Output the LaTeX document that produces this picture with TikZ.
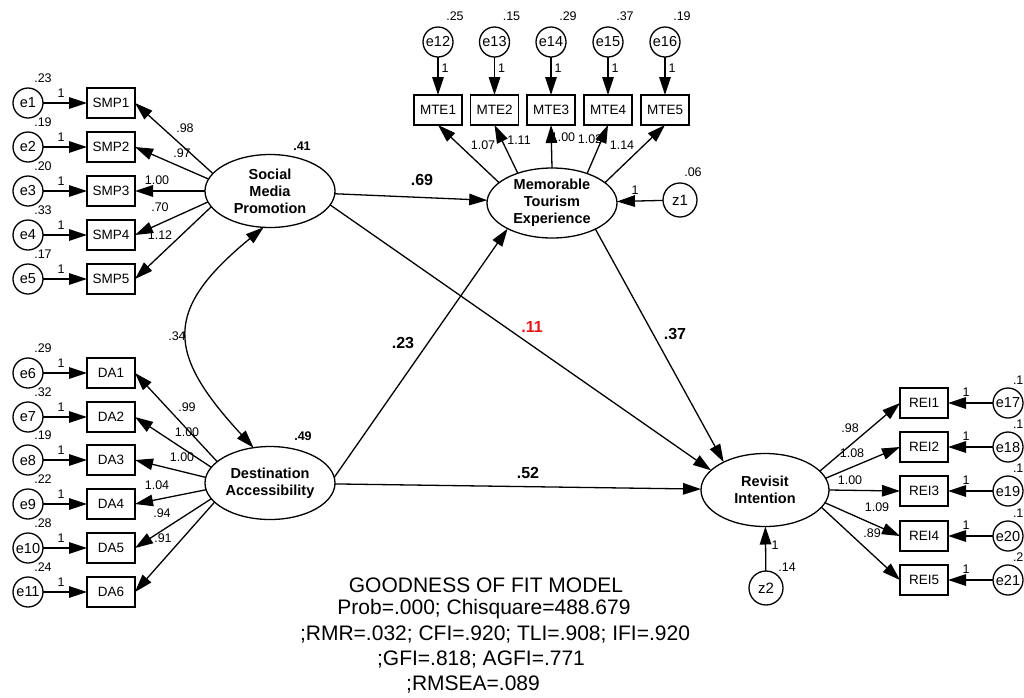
\documentclass[tikz,border=0pt]{standalone}
\usepackage{fontspec}
\setmainfont{Liberation Sans}
\usetikzlibrary{arrows.meta,shapes.geometric}
\definecolor{sigred}{RGB}{230,20,20}
\begin{document}
\begin{tikzpicture}[x=1pt,y=-1pt,
 every node/.style={inner sep=0pt,outer sep=0pt},
 lw/.style={line width=1.3pt},
 errc/.style={circle,draw,lw,minimum size=30pt,font=\fontsize{14.5}{14.5}\selectfont},
 zc/.style={circle,draw,lw,minimum size=34pt,font=\fontsize{15}{15}\selectfont},
 obs/.style={rectangle,draw,lw,minimum width=48pt,minimum height=30pt,font=\fontsize{13.5}{13.5}\selectfont},
 lat/.style={ellipse,draw,lw,minimum width=130pt,minimum height=73pt,align=center,font=\fontsize{14.5}{17}\selectfont\bfseries},
 arr/.style={lw,-{Triangle[length=18pt,width=11.5pt]}},
 darr/.style={lw,{Triangle[length=18pt,width=11.5pt]}-{Triangle[length=18pt,width=11.5pt]}},
 num/.style={font=\fontsize{12.5}{12.5}\selectfont},
 bnum/.style={font=\fontsize{12.5}{12.5}\selectfont\bfseries},
 coef/.style={font=\fontsize{16}{16}\selectfont\bfseries},
 fit/.style={font=\fontsize{21}{21}\selectfont},
]
\useasboundingbox (0,0) rectangle (1024,697);

% ---------- latent variables
\node[lat] (smp) at (270,191) {Social\\Media\\Promotion};
\node[lat] (da) at (270,483) {Destination\\Accessibility};
\node[lat,minimum height=70pt] (mte) at (552,203) {Memorable\\Tourism\\Experience};
\node[lat,minimum width=128pt] (rei) at (765,490) {Revisit\\Intention};
\node[bnum] at (302,146) {.41};
\node[bnum] at (303,436) {.49};

% ---------- Social Media Promotion indicators
\foreach \i/\y/\v/\a/\c/\cx/\cy in {1/103/.23/163/.98/185/128, 2/147/.19/169/.97/182/153, 3/191/.20/180/1.00/157/180, 4/235/.33/190/.70/160/207, 5/279/.17/195/1.12/160/235}{
  \node[errc] (e\i) at (28,\y) {e\i};
  \node[obs] (smp\i) at (111,\y) {SMP\i};
  \node[num] at (43,\y-25) {\v};
  \draw[arr] (e\i) -- (smp\i);
  \node[num] at (61,\y-10) {1};
  \draw[arr] (smp.\a) -- (smp\i.east);
  \node[num] at (\cx,\cy) {\c};
}

% ---------- Destination Accessibility indicators
\foreach \i/\k/\y/\v/\a/\c/\cx/\cy in {6/1/373/.29/158/.99/187/407, 7/2/417/.32/165/1.00/187/432, 8/3/460/.19/175/1.00/182/457, 9/4/504/.22/186/1.04/157/485, 10/5/548/.28/195/.94/162/513, 11/6/592/.24/199/.91/163/538}{
  \node[errc] (e\i) at (28,\y) {e\i};
  \node[obs] (da\k) at (111,\y) {DA\k};
  \node[num] at (43,\y-25) {\v};
  \draw[arr] (e\i) -- (da\k);
  \node[num] at (61,\y-10) {1};
  \draw[arr] (da.\a) -- (da\k.east);
  \node[num] at (\cx,\cy) {\c};
}

% ---------- Memorable Tourism Experience indicators
\foreach \i/\k/\x/\v/\a/\c/\cx/\cy in {12/1/438/.25/159/1.07/483/145, 13/2/494.5/.15/139/1.11/519/140, 14/3/551/.29/90/1.00/563/137, 15/4/608/.37/40/1.02/590/139, 16/5/665/.19/21/1.14/622/145}{
  \node[errc] (e\i) at (\x,42) {e\i};
  \node[obs] (mte\k) at (\x,110) {MTE\k};
  \node[num] at (\x+17,16) {\v};
  \draw[arr] (e\i) -- (mte\k);
  \node[num] at (\x+7,68) {1};
  \draw[arr] (mte.\a) -- (mte\k.south);
  \node[num] at (\cx,\cy) {\c};
}

% ---------- Revisit Intention indicators
\foreach \i/\k/\y/\v/\a/\c/\cx/\cy in {17/1/403/.1/19/.98/850/428, 18/2/447/.1/11/1.08/852/453, 19/3/491/.1/0/1.00/850/480, 20/4/536/.1/-12/1.09/877/507, 21/5/580/.2/-17/.89/872/533}{
  \node[errc] (e\i) at (1008,\y) {e\i};
  \node[obs] (rei\k) at (924,\y) {REI\k};
  \node[num,anchor=west] at (1013,\y-23) {\v};
  \draw[arr] (e\i) -- (rei\k);
  \node[num] at (966,\y-11) {1};
  \draw[arr] (rei.\a) -- (rei\k.west);
  \node[num] at (\cx,\cy) {\c};
}

% ---------- disturbances
\node[zc] (z1) at (680,200) {z1};
\node[num] at (693,172) {.06};
\draw[arr] (z1) -- (mte);
\node[num] at (635,190) {1};
\node[zc] (z2) at (766,588) {z2};
\node[num] at (787,567) {.14};
\draw[arr] (z2) -- (rei);
\node[num] at (775,545) {1};

% ---------- structural paths
\draw[arr] (smp) -- (mte);
\draw[arr] (smp.-13) -- (rei.160);
\draw[arr] (da.5) -- (mte.210);
\draw[arr] (da) -- (rei);
\draw[arr] (mte.-31) -- (rei.146);
\draw[darr] (da.115) .. controls (166,353) and (163,310) .. (smp.-100);
\node[num] at (177,336) {.34};
\node[coef] at (422,180) {.69};
\node[coef,text=sigred] at (532,327) {.11};
\node[coef] at (403,343) {.23};
\node[coef] at (675,334) {.37};
\node[coef] at (528,473) {.52};

% ---------- fit statistics
\node[fit] (f1) at (486,585) {GOODNESS OF FIT MODEL};
\node[fit] (f2) at (484,609.5) {Prob=.000; Chisquare=488.679};
\node[fit] (f3) at (495,634.5) {;RMR=.032; CFI=.920; TLI=.908; IFI=.920};
\node[fit] (f4) at (481,659) {;GFI=.818; AGFI=.771};
\node[fit] (f5) at (473,684) {;RMSEA=.089};
\end{tikzpicture}
\end{document}
